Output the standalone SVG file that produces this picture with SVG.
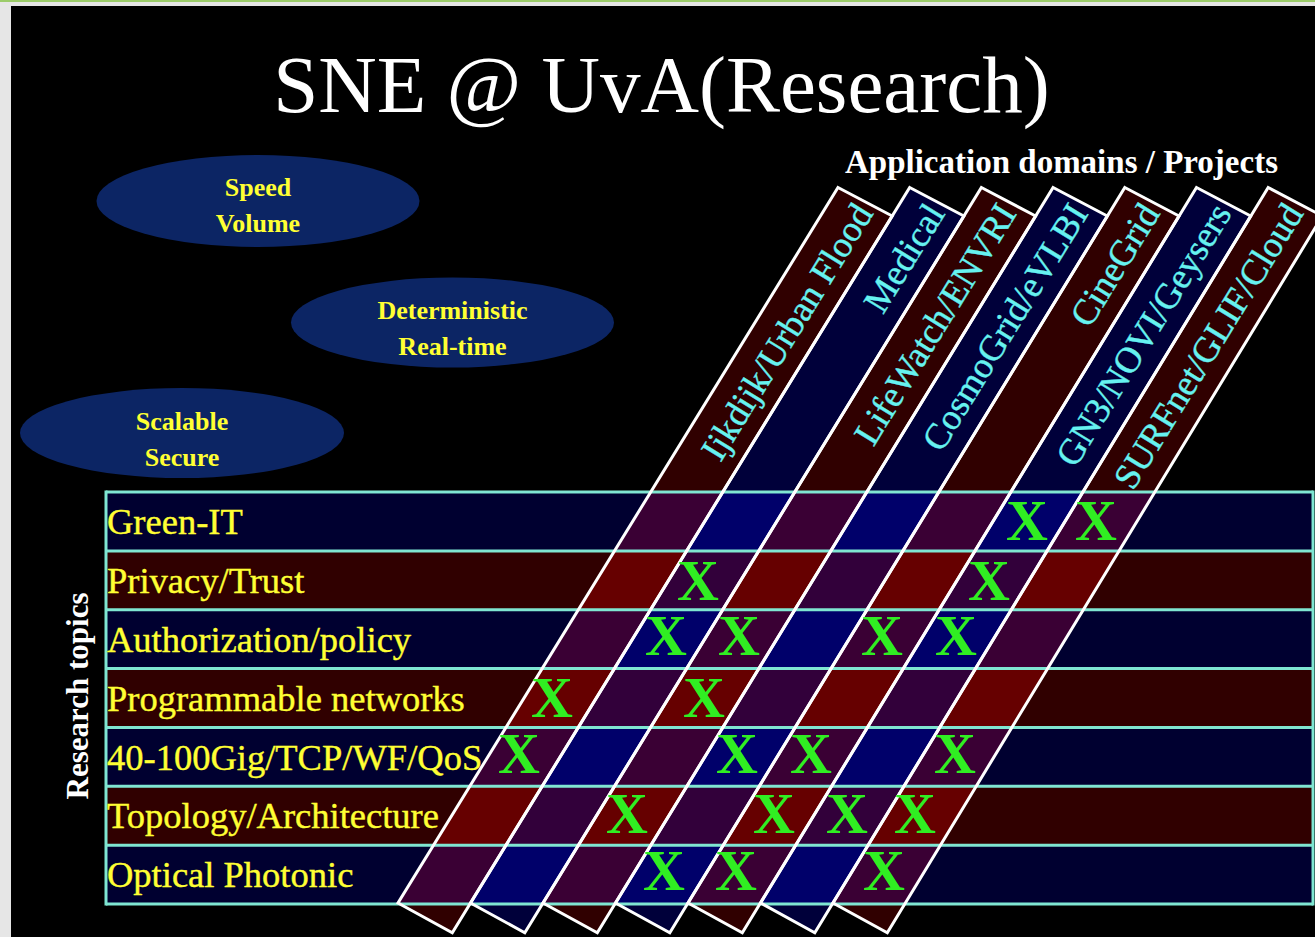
<svg xmlns="http://www.w3.org/2000/svg" xmlns:xlink="http://www.w3.org/1999/xlink" width="1315" height="937" viewBox="0 0 1315 937">
<style>
  .title{font-family:"Liberation Serif",serif;font-size:81px;fill:#ffffff;text-anchor:middle}
  .hdr{font-family:"Liberation Serif",serif;font-weight:bold;font-size:33px;fill:#ffffff}
  .ell{fill:#0c2564}
  .etxt{font-family:"Liberation Serif",serif;font-weight:bold;font-size:26px;fill:#ffff33;text-anchor:middle}
  .rlab{font-family:"Liberation Serif",serif;font-size:36.5px;fill:#ffff33;stroke:#ffff33;stroke-width:0.4}
  .clab{font-family:"Liberation Serif",serif;font-size:36.5px;fill:#66f2f0;stroke:#66f2f0;stroke-width:0.4;text-anchor:end}
  .xm{font-family:"Liberation Serif",serif;font-weight:bold;font-size:58px;fill:#30ee22;text-anchor:middle}
  .edge{fill:none;stroke:#ffffff;stroke-width:3;stroke-linejoin:miter}
  .rline{stroke:#7fe6d2;stroke-width:3}
</style>
<defs>
  <polygon id="c0" points="838,187.5 892.2,216 452.3,932.7 398,903"/>
  <polygon id="c1" points="909.7,187.5 963.9,216 524.8,932.7 470.5,903"/>
  <polygon id="c2" points="981.4,187.5 1035.6,216 597.3,932.7 543,903"/>
  <polygon id="c3" points="1053.1,187.5 1107.3,216 669.8,932.7 615.5,903"/>
  <polygon id="c4" points="1124.8,187.5 1179,216 742.3,932.7 688,903"/>
  <polygon id="c5" points="1196.5,187.5 1250.7,216 814.8,932.7 760.5,903"/>
  <polygon id="c6" points="1268.2,187.5 1322.4,216 887.3,932.7 833,903"/>
  <clipPath id="blueRows">
    <rect x="106" y="492" width="1207" height="58.9"/>
    <rect x="106" y="609.7" width="1207" height="58.9"/>
    <rect x="106" y="727.4" width="1207" height="58.9"/>
    <rect x="106" y="845.2" width="1207" height="58.8"/>
  </clipPath>
  <clipPath id="redRows">
    <rect x="106" y="550.9" width="1207" height="58.8"/>
    <rect x="106" y="668.6" width="1207" height="58.8"/>
    <rect x="106" y="786.3" width="1207" height="58.9"/>
  </clipPath>
</defs>

<g id="background">
  <rect x="0" y="0" width="1315" height="937" fill="#e6e6e6"/>
  <rect x="0" y="0" width="1315" height="2" fill="#9ccc6a"/>
  <rect x="11" y="6" width="1304" height="931" fill="#000000"/>
</g>

<g id="title">
  <text class="title" x="661.5" y="112">SNE @ UvA(Research)</text>
  <text class="hdr" x="845" y="173">Application domains / Projects</text>
</g>

<g id="ellipse-speed">
  <ellipse class="ell" cx="258" cy="201" rx="161.5" ry="46"/>
  <text class="etxt" x="258" y="196">Speed</text>
  <text class="etxt" x="258" y="232">Volume</text>
</g>
<g id="ellipse-deterministic">
  <ellipse class="ell" cx="452.5" cy="322.5" rx="161.5" ry="45"/>
  <text class="etxt" x="452.5" y="319">Deterministic</text>
  <text class="etxt" x="452.5" y="355">Real-time</text>
</g>
<g id="ellipse-scalable">
  <ellipse class="ell" cx="182" cy="433" rx="162" ry="45"/>
  <text class="etxt" x="182" y="430">Scalable</text>
  <text class="etxt" x="182" y="466">Secure</text>
</g>

<g id="rows">
  <rect x="106" y="492" width="1207" height="58.9" fill="#000030"/>
  <rect x="106" y="550.9" width="1207" height="58.8" fill="#300000"/>
  <rect x="106" y="609.7" width="1207" height="58.9" fill="#000030"/>
  <rect x="106" y="668.6" width="1207" height="58.8" fill="#300000"/>
  <rect x="106" y="727.4" width="1207" height="58.9" fill="#000030"/>
  <rect x="106" y="786.3" width="1207" height="58.9" fill="#300000"/>
  <rect x="106" y="845.2" width="1207" height="58.8" fill="#000030"/>
</g>

<g id="columns">
  <use xlink:href="#c0" fill="#300000"/>
  <use xlink:href="#c1" fill="#00003a"/>
  <use xlink:href="#c2" fill="#300000"/>
  <use xlink:href="#c3" fill="#00003a"/>
  <use xlink:href="#c4" fill="#300000"/>
  <use xlink:href="#c5" fill="#00003a"/>
  <use xlink:href="#c6" fill="#300000"/>
  <g clip-path="url(#blueRows)">
    <use xlink:href="#c0" fill="#3a0034"/>
    <use xlink:href="#c1" fill="#00006a"/>
    <use xlink:href="#c2" fill="#3a0034"/>
    <use xlink:href="#c3" fill="#00006a"/>
    <use xlink:href="#c4" fill="#3a0034"/>
    <use xlink:href="#c5" fill="#00006a"/>
    <use xlink:href="#c6" fill="#3a0034"/>
  </g>
  <g clip-path="url(#redRows)">
    <use xlink:href="#c0" fill="#660000"/>
    <use xlink:href="#c1" fill="#32003a"/>
    <use xlink:href="#c2" fill="#660000"/>
    <use xlink:href="#c3" fill="#32003a"/>
    <use xlink:href="#c4" fill="#660000"/>
    <use xlink:href="#c5" fill="#32003a"/>
    <use xlink:href="#c6" fill="#660000"/>
  </g>
</g>

<g id="grid-lines">
  <line class="rline" x1="106" y1="492" x2="1313" y2="492"/>
  <line class="rline" x1="106" y1="550.9" x2="1313" y2="550.9"/>
  <line class="rline" x1="106" y1="609.7" x2="1313" y2="609.7"/>
  <line class="rline" x1="106" y1="668.6" x2="1313" y2="668.6"/>
  <line class="rline" x1="106" y1="727.4" x2="1313" y2="727.4"/>
  <line class="rline" x1="106" y1="786.3" x2="1313" y2="786.3"/>
  <line class="rline" x1="106" y1="845.2" x2="1313" y2="845.2"/>
  <line class="rline" x1="106" y1="904" x2="1313" y2="904"/>
  <line class="rline" x1="106" y1="490.5" x2="106" y2="905.5"/>
  <line class="rline" x1="1313" y1="490.5" x2="1313" y2="905.5"/>
</g>

<g id="column-edges">
  <use xlink:href="#c0" class="edge"/>
  <use xlink:href="#c1" class="edge"/>
  <use xlink:href="#c2" class="edge"/>
  <use xlink:href="#c3" class="edge"/>
  <use xlink:href="#c4" class="edge"/>
  <use xlink:href="#c5" class="edge"/>
  <use xlink:href="#c6" class="edge"/>
</g>

<g id="column-labels">
  <text class="clab" transform="translate(874,213.5) rotate(-58.4)">Ijkdijk/Urban Flood</text>
  <text class="clab" transform="translate(945.7,213.5) rotate(-58.4)">Medical</text>
  <text class="clab" transform="translate(1017.4,213.5) rotate(-58.4)">LifeWatch/ENVRI</text>
  <text class="clab" transform="translate(1089.1,213.5) rotate(-58.4)">CosmoGrid/eVLBI</text>
  <text class="clab" transform="translate(1160.8,213.5) rotate(-58.4)">CineGrid</text>
  <text class="clab" transform="translate(1232.5,213.5) rotate(-58.4)">GN3/NOVI/Geysers</text>
  <text class="clab" transform="translate(1304.2,213.5) rotate(-58.4)">SURFnet/GLIF/Cloud</text>
</g>

<g id="row-labels">
  <text class="rlab" x="107" y="534">Green-IT</text>
  <text class="rlab" x="107" y="593">Privacy/Trust</text>
  <text class="rlab" x="107" y="652">Authorization/policy</text>
  <text class="rlab" x="107" y="710.5">Programmable networks</text>
  <text class="rlab" x="107" y="769.5">40-100Gig/TCP/WF/QoS</text>
  <text class="rlab" x="107" y="828">Topology/Architecture</text>
  <text class="rlab" x="107" y="887">Optical Photonic</text>
  <text transform="translate(88,696) rotate(-90)" font-family="Liberation Serif, serif" font-weight="bold" font-size="31" fill="#ffffff" text-anchor="middle">Research topics</text>
</g>

<g id="marks">
  <text class="xm" x="1027" y="540">X</text>
  <text class="xm" x="1096" y="540">X</text>
  <text class="xm" x="698" y="600">X</text>
  <text class="xm" x="989" y="600">X</text>
  <text class="xm" x="666" y="655">X</text>
  <text class="xm" x="739" y="655">X</text>
  <text class="xm" x="882" y="655">X</text>
  <text class="xm" x="956" y="655">X</text>
  <text class="xm" x="552" y="717">X</text>
  <text class="xm" x="704" y="717">X</text>
  <text class="xm" x="519" y="773">X</text>
  <text class="xm" x="737" y="773">X</text>
  <text class="xm" x="811" y="773">X</text>
  <text class="xm" x="955" y="773">X</text>
  <text class="xm" x="627" y="833">X</text>
  <text class="xm" x="774" y="833">X</text>
  <text class="xm" x="847" y="833">X</text>
  <text class="xm" x="915" y="833">X</text>
  <text class="xm" x="664" y="890">X</text>
  <text class="xm" x="736" y="890">X</text>
  <text class="xm" x="884" y="890">X</text>
</g>
</svg>
